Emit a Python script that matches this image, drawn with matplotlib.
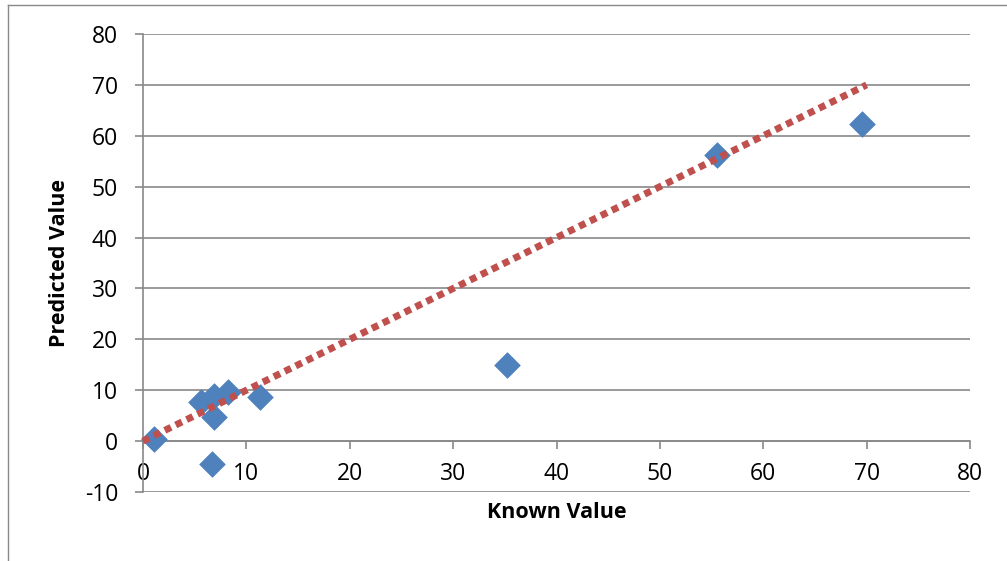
import matplotlib.pyplot as plt
from matplotlib.lines import Line2D

# -----------------------------
# Data
# -----------------------------

known = [1.1, 5.6, 6.9, 8.2, 6.9, 6.7, 11.3, 35.2, 55.5, 69.6]
predicted = [0.4, 7.6, 8.8, 9.6, 4.7, -4.5, 8.6, 14.9, 56.3, 62.4]

trend_x = [0, 70]
trend_y = [0, 70]

x_ticks = [0, 10, 20, 30, 40, 50, 60, 70, 80]
y_ticks = [-10, 0, 10, 20, 30, 40, 50, 60, 70, 80]

GRID = "#898989"
BLUE = "#4F81BD"
RED = "#C0504D"

plt.rcParams["font.family"] = ["Open Sans", "DejaVu Sans"]
plt.rcParams["axes.unicode_minus"] = False

fig = plt.figure(figsize=(10.07, 5.61), dpi=100)
W, H = 1007, 561
ax = fig.add_axes([143 / W, 1 - 492 / H, (970 - 143) / W, (492 - 34) / H])

# chart border (left and top edges visible)
fig.add_artist(Line2D([8 / W, 8 / W], [0, 1 - 5 / H], color=GRID, lw=1.0,
                      transform=fig.transFigure))
fig.add_artist(Line2D([8 / W, 1], [1 - 5 / H, 1 - 5 / H], color=GRID, lw=1.0,
                      transform=fig.transFigure))

# -----------------------------
# Marks
# -----------------------------

ax.scatter(known, predicted, marker="D", s=170, color=BLUE,
           edgecolors=BLUE, linewidths=0.5, zorder=3, clip_on=False)

ax.plot(trend_x, trend_y, color=RED, lw=5, linestyle=(0, (1, 0.75)),
        dash_capstyle="butt", zorder=4, clip_on=False)

# -----------------------------
# Axes styling
# -----------------------------

ax.set_xlim(0, 80)
ax.set_ylim(-10, 80)
ax.set_xticks(x_ticks)
ax.set_yticks(y_ticks)

ax.yaxis.grid(True, color=GRID, lw=1.2)
ax.set_axisbelow(True)

for side in ["top", "right"]:
    ax.spines[side].set_visible(False)
ax.spines["left"].set_color(GRID)
ax.spines["left"].set_linewidth(1.2)
ax.spines["bottom"].set_position(("data", 0))
ax.spines["bottom"].set_color(GRID)
ax.spines["bottom"].set_linewidth(1.2)

ax.tick_params(axis="both", colors=GRID, labelcolor="black",
               labelsize=16.5, length=6, width=1.2, direction="out")
ax.tick_params(axis="x", pad=9)
ax.tick_params(axis="y", pad=12)

ax.set_xlabel("Known Value", fontsize=15.5, fontweight="bold")
ax.set_ylabel("Predicted Value", fontsize=15.5, fontweight="bold")
ax.xaxis.set_label_coords(0.5, -0.022)
ax.yaxis.set_label_coords(-0.088, 0.5)

fig.savefig("out.png", dpi=100, facecolor="white")
